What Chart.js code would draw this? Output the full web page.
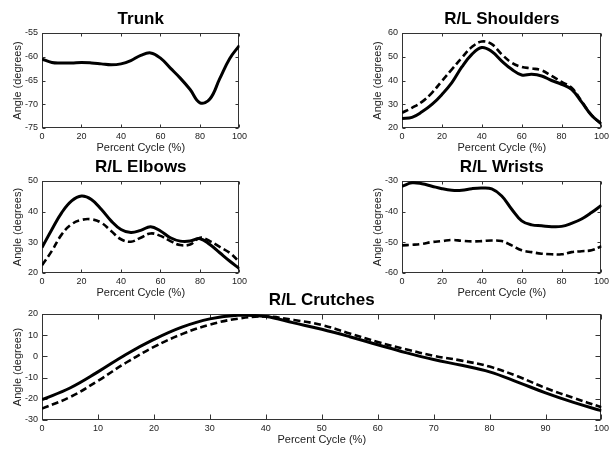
<!DOCTYPE html>
<html><head><meta charset="utf-8">
<script src="https://cdn.jsdelivr.net/npm/chart.js@4"></script>
<style>
html,body{margin:0;padding:0;background:#fff;}
#wrap{position:relative;width:609px;height:449px;overflow:hidden;background:#fff;}
.p{position:absolute;}
</style></head><body><div id="wrap"></div>
<script>
// ---- data (percent of cycle, angle in degrees) ----
const pct = [0,5,10,15,20,25,30,35,40,45,50,55,60,65,70,75,80,85,90,95,100];

const trunkTitle = 'Trunk';
const trunk = [-60.5,-61.2,-61.3,-61.3,-61.2,-61.3,-61.5,-61.7,-61.5,-60.8,-59.7,-59.2,-60.3,-62.4,-64.5,-66.9,-69.7,-68.9,-64.6,-60.4,-57.6];

const shouldersTitle = 'R/L Shoulders';
const shouldersR = [24.0,24.5,26.8,29.9,34.1,39.1,45.7,51.0,53.9,52.2,48.2,44.7,42.3,42.6,41.9,40.0,38.4,36.3,31.0,25.4,21.7];
const shouldersL = [26.4,28.5,31.0,34.8,39.8,44.7,49.6,54.1,56.4,55.3,51.0,47.5,45.7,45.1,44.3,41.9,39.4,37.0,31.3,25.4,21.7];

const elbowsTitle = 'R/L Elbows';
const elbowsR = [28.3,34.2,39.7,43.5,45.1,44.0,40.8,37.0,34.2,33.2,33.9,35.1,33.7,31.5,30.4,30.4,31.2,29.3,26.6,23.9,21.4];
const elbowsL = [22.5,27.2,32.6,35.9,37.3,37.5,36.4,33.7,31.0,30.2,31.5,32.9,32.1,30.4,29.1,29.3,31.5,30.4,28.5,26.6,23.6];

const wristsTitle = 'R/L Wrists';
const wristsR = [-31.7,-30.6,-30.9,-31.7,-32.5,-33.0,-33.0,-32.5,-32.3,-32.6,-34.9,-39.2,-43.0,-44.3,-44.6,-44.9,-44.8,-43.8,-42.4,-40.3,-37.9];
const wristsL = [-51.0,-50.8,-50.5,-49.9,-49.6,-49.2,-49.5,-49.7,-49.6,-49.4,-49.6,-51.0,-52.6,-53.2,-53.7,-53.9,-53.9,-53.2,-52.9,-52.6,-51.3];

const crutchesTitle = 'R/L Crutches';
const crutchesR = [-20.4,-14.9,-7.3,0.9,8.0,13.8,17.7,19.4,18.8,15.8,12.8,9.3,5.5,1.8,-1.5,-4.2,-7.3,-12.1,-17.2,-21.7,-25.6];
const crutchesL = [-24.6,-19.2,-11.5,-3.0,4.5,10.5,15.0,17.8,18.8,17.2,14.8,10.8,6.8,3.4,0.3,-2.0,-4.8,-9.4,-14.9,-19.6,-24.0];

const xLabel = 'Percent Cycle (%)';
const yLabel = 'Angle (degrees)';

// ---- rendering ----
const FONT = "'Liberation Sans', Arial, Helvetica, sans-serif";
Chart.defaults.font.family = FONT;
const TXT = '#222';

const framePlugin = {
  id: 'frame',
  beforeDatasetsDraw(chart, args, opts) {
    const {ctx, chartArea: a, scales: {x, y}} = chart;
    const L = Math.round(a.left) + 0.5, R = Math.round(a.right) - 0.5;
    const T = Math.round(a.top) + 0.5, B = Math.round(a.bottom) - 0.5;
    const tl = opts.len || 3;
    ctx.save();
    ctx.strokeStyle = '#333';
    ctx.lineWidth = 1;
    ctx.strokeRect(L, T, R - L, B - T);
    ctx.beginPath();
    x.ticks.forEach(t => {
      const px = Math.round(x.getPixelForValue(t.value)) + 0.5;
      ctx.moveTo(px, B); ctx.lineTo(px, B - tl);
      ctx.moveTo(px, T); ctx.lineTo(px, T + tl);
    });
    y.ticks.forEach(t => {
      const py = Math.round(y.getPixelForValue(t.value)) + 0.5;
      ctx.moveTo(L, py); ctx.lineTo(L + tl, py);
      ctx.moveTo(R, py); ctx.lineTo(R - tl, py);
    });
    ctx.stroke();
    ctx.restore();
  }
};

function series(vals, dashed) {
  return {
    data: pct.map((p, i) => ({x: p, y: vals[i]})),
    borderColor: '#000',
    borderWidth: dashed ? 2.6 : 3,
    borderDash: dashed ? [7, 3.5] : [],
    pointRadius: 0,
    fill: false,
    tension: 0.4
  };
}

function panel(rect, title, yMin, yMax, yStep, xStep, sets, tickLen) {
  const YW = 44, TH = 32, XH = 27, PR = 10;
  const w = YW + (rect.R - rect.L) + PR;
  const h = TH + (rect.B - rect.T) + XH;
  const div = document.createElement('div');
  div.className = 'p';
  div.style.left = (rect.L - YW) + 'px';
  div.style.top = (rect.T - TH) + 'px';
  div.style.width = w + 'px';
  div.style.height = h + 'px';
  const cv = document.createElement('canvas');
  cv.width = w; cv.height = h;
  cv.style.width = w + 'px'; cv.style.height = h + 'px';
  div.appendChild(cv);
  document.getElementById('wrap').appendChild(div);
  new Chart(cv, {
    type: 'line',
    data: {datasets: sets},
    options: {
      responsive: false,
      animation: false,
      devicePixelRatio: 1,
      layout: {padding: {left: 0, right: PR, top: 0, bottom: 0}},
      plugins: {
        legend: {display: false},
        tooltip: {enabled: false},
        title: {
          display: true, text: title, fullSize: false, color: '#000',
          font: {family: FONT, size: 17, weight: 'bold'},
          padding: {top: 8.6, bottom: 3}
        },
        frame: {len: tickLen}
      },
      scales: {
        x: {
          type: 'linear', min: 0, max: 100,
          ticks: {stepSize: xStep, color: TXT, font: {size: 9}, padding: 3, maxRotation: 0, autoSkip: false},
          grid: {display: false, drawTicks: false},
          border: {display: false},
          title: {display: true, text: xLabel, color: TXT, font: {size: 11}, padding: {top: 0, bottom: 0}},
          afterFit(s) { s.height = XH; }
        },
        y: {
          type: 'linear', min: yMin, max: yMax,
          ticks: {stepSize: yStep, color: TXT, font: {size: 9}, padding: 4, autoSkip: false},
          grid: {display: false, drawTicks: false},
          border: {display: false},
          title: {display: true, text: yLabel, color: TXT, font: {size: 11}, padding: {top: 13, bottom: 0}},
          afterFit(s) { s.width = YW; }
        }
      }
    },
    plugins: [framePlugin]
  });
}

panel({L: 42, T: 33, R: 240, B: 128}, trunkTitle, -75, -55, 5, 20, [series(trunk, false)], 3);
panel({L: 402, T: 33, R: 602, B: 128}, shouldersTitle, 20, 60, 10, 20, [series(shouldersR, false), series(shouldersL, true)], 3);
panel({L: 42, T: 181, R: 240, B: 273}, elbowsTitle, 20, 50, 10, 20, [series(elbowsR, false), series(elbowsL, true)], 3);
panel({L: 402, T: 181, R: 602, B: 273}, wristsTitle, -60, -30, 10, 20, [series(wristsR, false), series(wristsL, true)], 3);
panel({L: 42, T: 314, R: 602, B: 420}, crutchesTitle, -30, 20, 10, 10, [series(crutchesR, false), series(crutchesL, true)], 5);
</script>
</body></html>
